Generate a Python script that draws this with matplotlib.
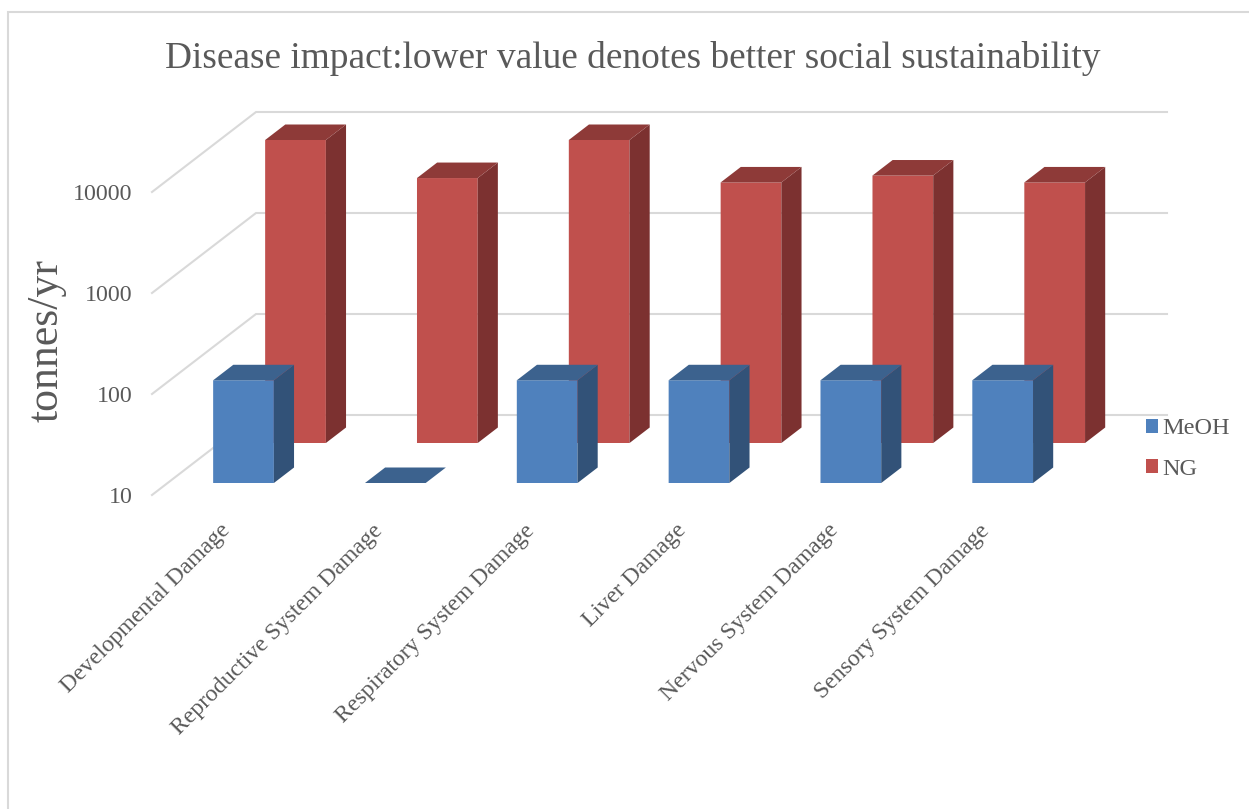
import matplotlib
matplotlib.use('Agg')
import matplotlib.pyplot as plt
from matplotlib.patches import Polygon, Rectangle
from matplotlib.transforms import Affine2D

categories = ['Developmental Damage', 'Reproductive System Damage', 'Respiratory System Damage',
              'Liver Damage', 'Nervous System Damage', 'Sensory System Damage']
meoh = [104, 10, 104, 104, 104, 104]
ng = [10000, 4200, 10000, 3800, 4450, 3800]
y_ticks = [10, 100, 1000, 10000]

W, H = 1249, 809
TEXT = '#595959'
GRID = '#d9d9d9'

plt.rcParams['font.family'] = ['Liberation Serif', 'DejaVu Serif']

fig = plt.figure(figsize=(W / 100, H / 100), dpi=100)

# chart frame
fig.add_artist(Rectangle((8 / W, -0.01), 1.2, 1 - 12 / H + 0.01, transform=fig.transFigure,
                         fill=False, edgecolor=GRID, linewidth=1.5))

# axes is the front plane of the 3D box: 152..1063 px across, y=495 (10) to y=192 (10000)
ax = fig.add_axes([152 / W, 1 - 495 / H, 911 / W, 303 / H])
ax.set_yscale('log')
ax.set_xlim(-0.5, 5.5)
ax.set_ylim(10, 10000)
ax.patch.set_visible(False)
for spine in ax.spines.values():
    spine.set_visible(False)


def shift(depth):
    # pixels right/up for a point lying `depth` px back in the box
    return 1.3 * depth, depth


def project(x, value, depth):
    px, py = ax.transData.transform((x, value))
    dx, dy = shift(depth)
    return px + dx, py + dy


def offset(depth):
    dx, dy = shift(depth)
    return ax.transData + Affine2D().translate(dx, dy)


# back wall gridlines and the side wall running forward
for t in y_ticks:
    xs, ys = zip(project(-0.5, t, 0), project(-0.5, t, 80), project(5.5, t, 80))
    ax.plot(xs, ys, color=GRID, lw=1.5, transform=None, clip_on=False, zorder=1)


def draw_series(values, depth, front, side, top, label, z):
    width = 0.4
    thick = 15.5
    xs = list(range(len(values)))
    bars = ax.bar(xs, [v - 10 for v in values], bottom=10, width=width, color=front, label=label,
                  transform=offset(depth), clip_on=False, zorder=z, linewidth=0)
    for rect in bars:
        rect.set_snap(False)
    for x, v in zip(xs, values):
        l, r = x - width / 2, x + width / 2
        ax.add_patch(Polygon([project(r, 10, depth), project(r, v, depth),
                              project(r, v, depth + thick), project(r, 10, depth + thick)],
                             closed=True, transform=None, facecolor=side, edgecolor='none',
                             clip_on=False, zorder=z, snap=False))
        ax.add_patch(Polygon([project(l, v, depth), project(r, v, depth),
                              project(r, v, depth + thick), project(l, v, depth + thick)],
                             closed=True, transform=None, facecolor=top, edgecolor='none',
                             clip_on=False, zorder=z, snap=False))


draw_series(ng, 52, '#c0504d', '#7c3130', '#8e3a38', 'NG', 2)
draw_series(meoh, 12, '#4f81bd', '#325278', '#3c628e', 'MeOH', 3)

ax.set_yticks(y_ticks, [str(t) for t in y_ticks])
ax.minorticks_off()
ax.tick_params(axis='y', length=0, pad=14, labelsize=17.2, labelcolor=TEXT)
ax.set_xticks(range(len(categories)), categories)
ax.tick_params(axis='x', length=0, pad=16, labelsize=17.1, labelcolor=TEXT)
for lab in ax.get_xticklabels():
    lab.set_rotation(45)
    lab.set_ha('right')
    lab.set_rotation_mode('anchor')
    lab.set_transform(lab.get_transform() + Affine2D().translate(-8, -3))

fig.text(632.5 / W, 1 - 59 / H, 'Disease impact:lower value denotes better social sustainability',
         ha='center', va='center', fontsize=26.9, color=TEXT)
fig.text(47 / W, 1 - 340 / H, 'tonnes/yr', rotation=90, ha='center', va='center',
         fontsize=31.6, color=TEXT)

handles, labels = ax.get_legend_handles_labels()
order = [labels.index('MeOH'), labels.index('NG')]
fig.legend([handles[i] for i in order], [labels[i] for i in order], frameon=False, fontsize=17.5,
           labelcolor=TEXT, loc='center left', bbox_to_anchor=(1146 / W, 1 - 449 / H),
           handlelength=0.5, handleheight=0.5, handletextpad=0.15, labelspacing=0.8,
           borderpad=0, borderaxespad=0)

fig.savefig('out.png', dpi=100)
